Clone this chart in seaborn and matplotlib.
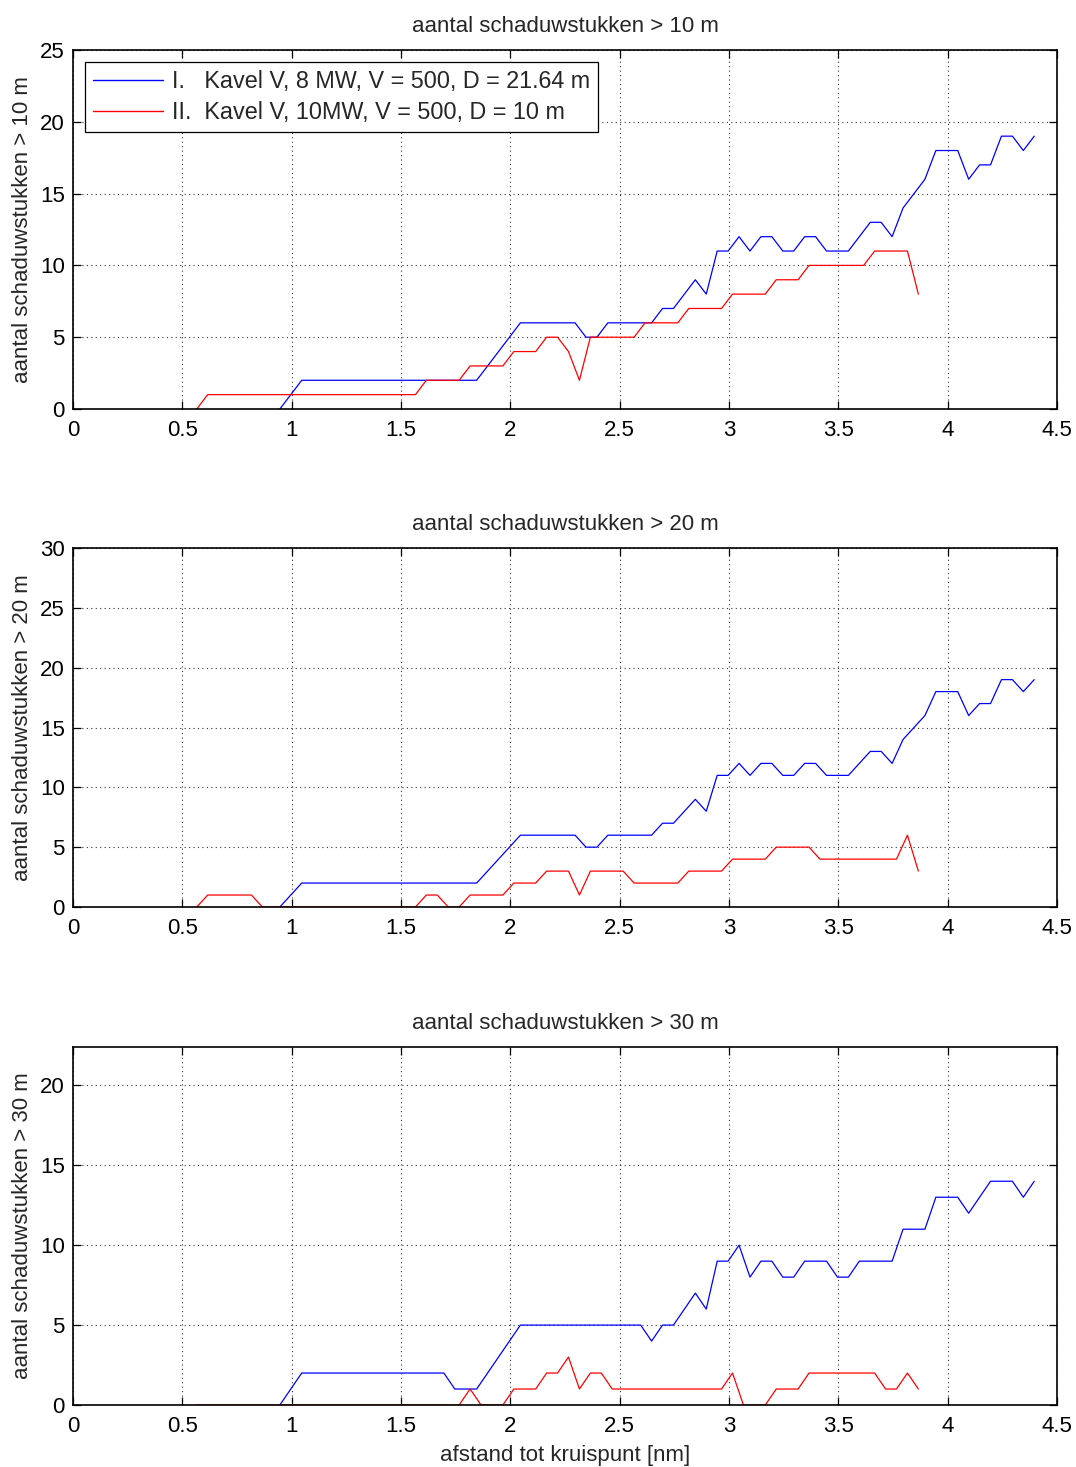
import numpy as np
import pandas as pd
import matplotlib
matplotlib.use("Agg")
import matplotlib.pyplot as plt
import seaborn as sns
from matplotlib.ticker import FuncFormatter, MultipleLocator

# ---------------- data ----------------
# x grids (nm)
x_blue = [round(0.946 + 0.05 * k, 3) for k in range(70)]
x_red = [round(0.566 + 0.05 * k, 3) for k in range(67)]

# series I (blue) > 10 m  (identical for > 20 m)
blue_10 = [0, 1] + [2] * 17 + [3, 4, 5] + [6] * 6 + [5, 5] + [6] * 5 + \
          [7, 7, 8, 9, 8, 11, 11, 12, 11, 12, 12, 11, 11, 12, 12, 11, 11, 11, 12,
           13, 13, 12, 14, 15, 16, 18, 18, 18, 16, 17, 17, 19, 19, 18, 19]
blue_20 = list(blue_10)
blue_30 = [0, 1] + [2] * 14 + [1, 1, 1, 2, 3, 4] + [5] * 12 + \
          [4, 5, 5, 6, 7, 6, 9, 9, 10, 8, 9, 9, 8, 8, 9, 9, 9, 8, 8, 9, 9, 9, 9,
           11, 11, 11, 13, 13, 13, 12, 13, 14, 14, 14, 13, 14]

# series II (red)
red_10 = [0] + [1] * 20 + [2] * 4 + [3] * 4 + [4, 4, 4, 5, 5, 4, 2] + [5] * 5 + \
         [6] * 4 + [7] * 4 + [8] * 4 + [9] * 3 + [10] * 6 + [11] * 4 + [8]
red_20 = [0] + [1] * 5 + [0] * 15 + [1, 1, 0, 0] + [1] * 4 + [2] * 3 + [3] * 3 + \
         [1] + [3] * 4 + [2] * 5 + [3] * 4 + [4] * 4 + [5] * 4 + [4] * 8 + [6, 3]
red_30 = [0] * 25 + [1, 0, 0, 0, 1, 1, 1, 2, 2, 3, 1, 2, 2] + [1] * 11 + \
         [2, 0, 0, 0, 1, 1, 1] + [2] * 7 + [1, 1, 2, 1]

labels = ["I.   Kavel V, 8 MW, V = 500, D = 21.64 m",
          "II.  Kavel V, 10MW, V = 500, D = 10 m"]
titles = ["aantal schaduwstukken > 10 m",
          "aantal schaduwstukken > 20 m",
          "aantal schaduwstukken > 30 m"]
ylabels = ["aantal schaduwstukken > 10 m",
           "aantal schaduwstukken > 20 m",
           "aantal schaduwstukken > 30 m"]
xlabel = "afstand tot kruispunt [nm]"
x_ticks = [0, 0.5, 1, 1.5, 2, 2.5, 3, 3.5, 4, 4.5]
ylims = [(0, 25), (0, 30), (0, 22.4)]
series = [(blue_10, red_10), (blue_20, red_20), (blue_30, red_30)]

# ---------------- style ----------------
sns.set_theme(style="white")
plt.rcParams['font.family'] = ['Liberation Sans', 'DejaVu Sans']
plt.rcParams['axes.edgecolor'] = 'black'
plt.rcParams['axes.linewidth'] = 1.2

fig = plt.figure(figsize=(10.76, 14.67), dpi=100)
left, width = 73 / 1076, 984 / 1076
tops = [50, 548, 1047]
bottoms = [409, 907, 1405]
H = 1467
palette = {labels[0]: (0, 0, 1), labels[1]: (1, 0, 0)}
fs = 16

for i in range(3):
    b, r = series[i]
    ax = fig.add_axes([left, 1 - bottoms[i] / H, width, (bottoms[i] - tops[i]) / H])
    df = pd.concat([
        pd.DataFrame({"x": x_blue, "v": b, "s": labels[0]}),
        pd.DataFrame({"x": x_red, "v": r, "s": labels[1]}),
    ])
    sns.lineplot(data=df, x="x", y="v", hue="s", palette=palette, ax=ax,
                 estimator=None, sort=False, linewidth=0.9, legend=False)
    ax.set_xlim(0, 4.5)
    ax.set_ylim(*ylims[i])
    ax.set_xticks(x_ticks)
    ax.yaxis.set_major_locator(MultipleLocator(5))
    ax.xaxis.set_major_formatter(FuncFormatter(lambda v, p: "%g" % v))
    ax.yaxis.set_major_formatter(FuncFormatter(lambda v, p: "%g" % v))
    ax.tick_params(direction="in", top=True, right=True, length=6, width=0.9,
                   labelsize=fs, colors="black", bottom=True, left=True)
    ax.tick_params(axis="x", pad=8)
    ax.tick_params(axis="y", pad=6)
    ax.grid(True, linestyle=(0, (1, 3)), color="black", linewidth=0.8, alpha=0.8)
    for sp in ax.spines.values():
        sp.set_visible(True)
        sp.set_color("black")
        sp.set_zorder(3)
    ax.set_title(titles[i], fontsize=fs, pad=13)
    ax.set_ylabel(ylabels[i], fontsize=fs, labelpad=5)
    if i == 2:
        ax.set_xlabel(xlabel, fontsize=fs, labelpad=6)
    else:
        ax.set_xlabel("")
    if i == 0:
        handles = [plt.Line2D([], [], color=(0, 0, 1), lw=1),
                   plt.Line2D([], [], color=(1, 0, 0), lw=1)]
        leg = ax.legend(handles, labels, loc="upper left", fontsize=16.8,
                        fancybox=False, framealpha=1, edgecolor="black",
                        handlelength=3.0, borderaxespad=0.5, borderpad=0.35,
                        labelspacing=0.35, handletextpad=0.4)
        leg.get_frame().set_linewidth(0.9)

fig.savefig("out.png", dpi=100, facecolor="white")
